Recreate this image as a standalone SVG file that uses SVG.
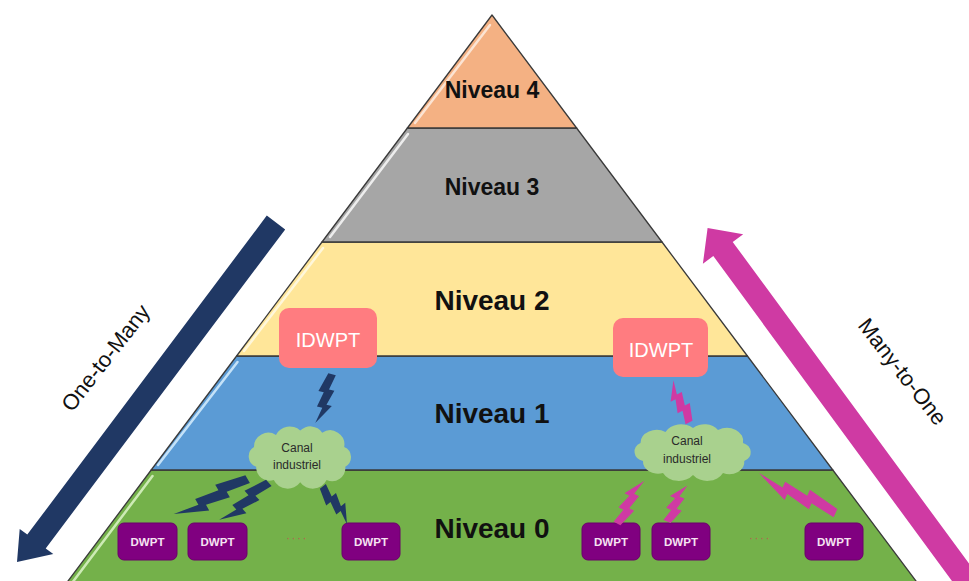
<svg xmlns="http://www.w3.org/2000/svg" xmlns:xlink="http://www.w3.org/1999/xlink" width="969" height="581" viewBox="0 0 969 581">
<style>
.band{stroke:#3a3a3a;stroke-width:1.3;stroke-linejoin:round}
.hl{fill:none;stroke-width:2.5;stroke-linecap:round}
.lvl{font-family:"Liberation Sans",Arial,sans-serif;font-weight:bold;fill:#111;text-anchor:middle}
.idw rect{fill:#FF7C80}
.idw text{font-family:"Liberation Sans",Arial,sans-serif;font-size:20px;fill:#fff;text-anchor:middle}
.cloud use{fill:#A9D18E}
.cloud text{font-family:"Liberation Sans",Arial,sans-serif;font-size:12px;fill:#2a2a2a;text-anchor:middle}
.dw rect{fill:#800080;stroke:#6a006a;stroke-width:1}
.dw text{font-family:"Liberation Sans",Arial,sans-serif;font-size:11.5px;font-weight:bold;fill:#F6E3F2;text-anchor:middle}
.dots{font-family:"Liberation Sans",Arial,sans-serif;font-size:12px;fill:#B5654F;text-anchor:middle;letter-spacing:1.5px}
.navy{fill:#203864}
.mag{fill:#CF3AA3}
.albl{font-family:"Liberation Sans",Arial,sans-serif;font-size:22px;fill:#111;text-anchor:middle}
</style>
<defs>
<path id="bolt" d="M-5,0 L9,0 L3,30 L13,30 L5,60 L15,60 L-7,100 L-1,68 L-11,68 L-5,38 L-15,38 Z"/>
<path id="cloudShape" d="M12,38 A10,10 0 0 1 10,20 A13,13 0 0 1 30,9 A14,14 0 0 1 52,5 A13,13 0 0 1 72,7 A13,13 0 0 1 92,20 A10,10 0 0 1 93,38 A12,12 0 0 1 76,50 A14,14 0 0 1 52,52 A14,14 0 0 1 28,50 A12,12 0 0 1 12,38 Z"/>
</defs>
<rect width="969" height="581" fill="#fff"/>

<g id="level0">
<polygon class="band" fill="#74B14A" points="151.2,470 832.8,470 922.7,590 61.3,590"/>
<line class="hl" stroke="#CDEBB5" x1="152.5" y1="476" x2="72" y2="583"/>
<text class="lvl" x="492" y="538" font-size="28">Niveau 0</text>
</g>
<g id="level1">
<polygon class="band" fill="#5B9BD5" points="236.6,356 747.4,356 832.8,470 151.2,470"/>
<line class="hl" stroke="#C4E2F8" x1="237.5" y1="362" x2="158" y2="465"/>
<text class="lvl" x="492" y="423" font-size="28">Niveau 1</text>
</g>
<g id="level2">
<polygon class="band" fill="#FFE699" points="322,242 662,242 747.4,356 236.6,356"/>
<line class="hl" stroke="#FFF7DA" x1="323" y1="248" x2="244" y2="351"/>
<text class="lvl" x="492" y="310" font-size="28">Niveau 2</text>
</g>
<g id="level3">
<polygon class="band" fill="#A6A6A6" points="407.4,128 576.6,128 662,242 322,242"/>
<line class="hl" stroke="#EDEDED" x1="408" y1="134" x2="330" y2="237"/>
<text class="lvl" x="492" y="195" font-size="23">Niveau 3</text>
</g>
<g id="level4">
<polygon class="band" fill="#F4B183" points="492,15 576.6,128 407.4,128"/>
<line class="hl" stroke="#FCE4D3" x1="490" y1="25" x2="415" y2="123"/>
<text class="lvl" x="492" y="98" font-size="23">Niveau 4</text>
</g>

<g id="idwpt-left" class="idw">
<rect x="279" y="308" width="98" height="60" rx="10"/>
<text x="328" y="347">IDWPT</text>
</g>
<g id="idwpt-right" class="idw">
<rect x="613" y="318" width="95" height="59" rx="10"/>
<text x="661" y="357">IDWPT</text>
</g>

<g id="cloud-left" class="cloud">
<use xlink:href="#cloudShape" transform="translate(243,425) scale(1.1,1.1)"/>
<text x="297" y="452">Canal</text>
<text x="297" y="469">industriel</text>
</g>
<g id="cloud-right" class="cloud">
<use xlink:href="#cloudShape" transform="translate(628,423) scale(1.25,1.0)"/>
<text x="687" y="445">Canal</text>
<text x="687" y="463">industriel</text>
</g>

<g id="dwpt-l1" class="dw"><rect x="118" y="523" width="59" height="37" rx="6"/><text x="147.5" y="545.5">DWPT</text></g>
<g id="dwpt-l2" class="dw"><rect x="188" y="523" width="59" height="37" rx="6"/><text x="217.5" y="545.5">DWPT</text></g>
<g id="dwpt-l3" class="dw"><rect x="342" y="523" width="58" height="37" rx="6"/><text x="371" y="545.5">DWPT</text></g>
<g id="dwpt-r1" class="dw"><rect x="582" y="523" width="58" height="37" rx="6"/><text x="611" y="545.5">DWPT</text></g>
<g id="dwpt-r2" class="dw"><rect x="652" y="523" width="58" height="37" rx="6"/><text x="681" y="545.5">DWPT</text></g>
<g id="dwpt-r3" class="dw"><rect x="805" y="523" width="58" height="37" rx="6"/><text x="834" y="545.5">DWPT</text></g>
<text class="dots" x="297" y="542">····</text>
<text class="dots" x="760" y="542">····</text>

<g id="connectors">
<use xlink:href="#bolt" class="navy" transform="translate(331,374) rotate(13.5) scale(0.55,0.514)"/>
<use xlink:href="#bolt" class="navy" transform="translate(247,478) rotate(60.6) scale(0.65,0.815)"/>
<use xlink:href="#bolt" class="navy" transform="translate(268,482) rotate(48.3) scale(0.6,0.616)"/>
<use xlink:href="#bolt" class="navy" transform="translate(322,487) rotate(-38.7) scale(0.55,0.448)"/>
<use xlink:href="#bolt" class="mag" transform="translate(690,422) rotate(153.4) scale(0.55,0.447)"/>
<use xlink:href="#bolt" class="mag" transform="translate(618,524) rotate(-152.9) scale(0.55,0.505)"/>
<use xlink:href="#bolt" class="mag" transform="translate(668,522) rotate(-157.2) scale(0.55,0.412)"/>
<use xlink:href="#bolt" class="mag" transform="translate(836,512) rotate(113.9) scale(0.65,0.864)"/>
</g>

<g id="flow-arrows">
<polygon class="navy" points="266.8,215.6 285.2,229.4 45.7,548.4 53.3,554.1 17,562 19.7,528.9 27.3,534.6"/>
<polygon class="mag" points="707.6,228 743.2,234.2 732.7,241.9 1016.9,628.8 997.5,643 713.3,256.1 702.9,263.8"/>
<text class="albl" transform="translate(106,358) rotate(-52)" y="7">One-to-Many</text>
<text class="albl" transform="translate(902,372) rotate(52)" y="7">Many-to-One</text>
</g>
</svg>
